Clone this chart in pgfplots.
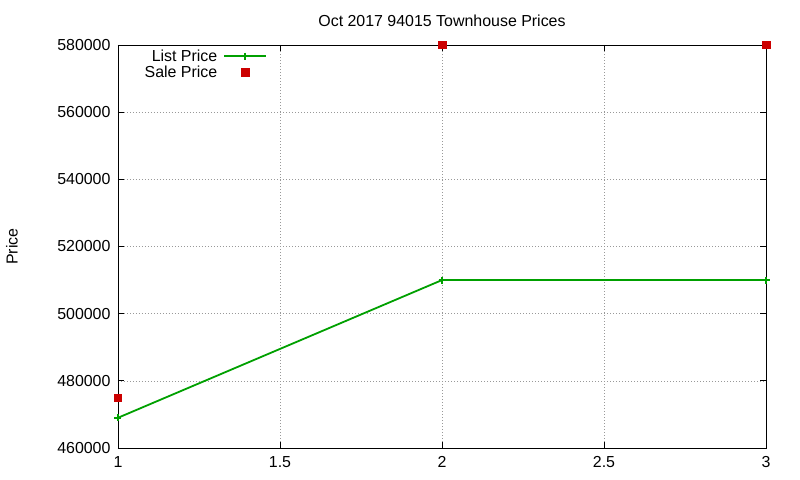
\documentclass[border=0pt]{standalone}
\usepackage{fontspec}
\setmainfont{Liberation Sans}
\usepackage{pgfplots}
\pgfplotsset{compat=1.18}
\definecolor{gpgreen}{RGB}{0,160,0}
\definecolor{gpred}{RGB}{204,0,0}
\begin{document}
\begin{tikzpicture}
\path (-118bp,-32bp) rectangle (682bp,448bp);
\begin{axis}[
    at={(0,0)}, anchor=south west,
    scale only axis, width=648bp, height=403bp,
    xmin=1, xmax=3, ymin=460000, ymax=580000,
    xtick={1,1.5,2,2.5,3},
    ytick={460000,480000,500000,520000,540000,560000,580000},
    /pgf/number format/fixed,
    /pgf/number format/assume math mode=true,
    /pgf/number format/1000 sep={},
    scaled y ticks=false,
    tick label style={font=\fontsize{16}{19}\selectfont},
    xticklabel style={yshift=-5bp},
    yticklabel style={xshift=-4bp},
    tick align=inside, major tick length=6bp,
    tick style={black, line width=0.8bp},
    axis line style={line width=0.9bp},
    grid=major,
    major grid style={gray!80, line width=0.6bp, dash pattern=on 1bp off 2bp},
    title={Oct 2017 94015 Townhouse Prices},
    every axis title/.style={at={(axis description cs:0.5,1.06)}, anchor=center,
        font=\fontsize{16}{19}\selectfont},
    ylabel={Price},
    every axis y label/.style={at={(axis description cs:-0.1636,0.5)}, rotate=90,
        anchor=center, font=\fontsize{16}{19}\selectfont},
    clip=false,
    legend plot pos=right,
    legend cell align=right,
    legend image code/.code={\draw[mark repeat=2,mark phase=2,line width=1.8bp,#1]
        plot coordinates {(0bp,0bp) (21bp,0bp) (42bp,0bp)};},
    legend style={draw=none, fill=none, at={(axis description cs:0.232,0.995)},
        anchor=north east, font=\fontsize{16}{19}\selectfont,
        row sep=0bp, inner sep=1bp,
        nodes={inner ysep=1.5bp, inner xsep=6bp}},
]
\addplot[gpgreen, line width=1.8bp, mark=+, mark size=3.5bp,
    mark options={line width=1.5bp}]
    coordinates {(1,469000) (2,510000) (3,510000)};
\addlegendentry{List Price}
\addplot[only marks, mark=square*, mark size=3.7bp, color=gpred, fill=gpred]
    coordinates {(1,475000) (2,580000) (3,580000)};
\addlegendentry{Sale Price}
\end{axis}
\end{tikzpicture}
\end{document}
